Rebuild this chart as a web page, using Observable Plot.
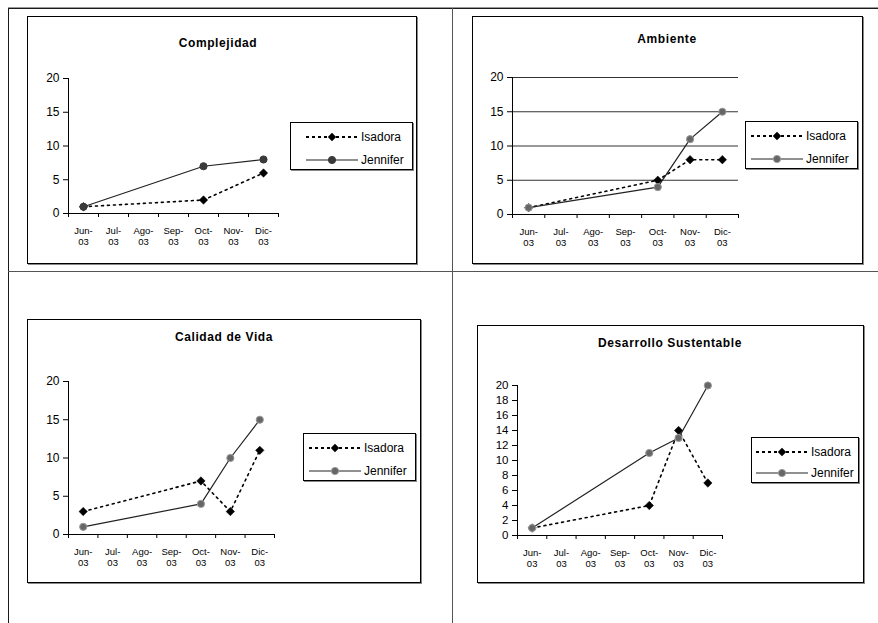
<!DOCTYPE html>
<html><head><meta charset="utf-8">
<script src="https://cdn.jsdelivr.net/npm/d3@7"></script>
<script src="https://cdn.jsdelivr.net/npm/@observablehq/plot@0.6"></script>
<style>
body{margin:0;background:#fff;font-family:"Liberation Sans",Arial,sans-serif;}
#page{position:relative;width:878px;height:623px;overflow:hidden;background:#fff;}
.rule{position:absolute;background:#1a1a1a;}
.box{position:absolute;border:1px solid #000;box-shadow:1px 1px 0 #888;box-sizing:border-box;pointer-events:none;}
.title{position:absolute;font-weight:bold;font-size:12px;letter-spacing:0.6px;transform:translate(-50%,-50%);white-space:nowrap;color:#000;}
.legend{position:absolute;border:1px solid #000;box-shadow:1px 1px 0 #888;box-sizing:border-box;background:#fff;}
.plot{position:absolute;}
</style></head><body><div id="page"></div>
<script>
// ---- data ----
const months = ["Jun-03","Jul-03","Ago-03","Sep-03","Oct-03","Nov-03","Dic-03"];
const seriesNames = ["Isadora","Jennifer"];
const complejidadIsadora  = [1,null,null,null,2,null,6];
const complejidadJennifer = [1,null,null,null,7,null,8];
const ambienteIsadora  = [1,null,null,null,5,8,8];
const ambienteJennifer = [1,null,null,null,4,11,15];
const calidadIsadora  = [3,null,null,null,7,3,11];
const calidadJennifer = [1,null,null,null,4,10,15];
const desarrolloIsadora  = [1,null,null,null,4,14,7];
const desarrolloJennifer = [1,null,null,null,11,13,20];
const ticks5 = [0,5,10,15,20];
const ticks2 = [0,2,4,6,8,10,12,14,16,18,20];
const gridAmbiente = [5,10,15,20];

const page = document.getElementById("page");
function div(cls, css, html){ const d=document.createElement("div"); d.className=cls; Object.assign(d.style,css); if(html!=null) d.innerHTML=html; page.appendChild(d); return d; }

// table rules
div("rule",{left:"8px",top:"7px",width:"870px",height:"1px",background:"#999"});
div("rule",{left:"8px",top:"8px",width:"870px",height:"1px"});
div("rule",{left:"8px",top:"8px",width:"1px",height:"615px"});
div("rule",{left:"452px",top:"8px",width:"1px",height:"615px",background:"#555"});
div("rule",{left:"8px",top:"271px",width:"870px",height:"1px",background:"#555"});

const panels = [
  {title:"Complejidad", isa:complejidadIsadora, jen:complejidadJennifer, ticks:ticks5, grid:[],
   box:[27,16,390,248], m:[62,139,51,41], tx:218, ty:43, leg:[290,122,123,48], lx:15, jfill:"#3a3a3a", jstroke:"#3a3a3a"},
  {title:"Ambiente", isa:ambienteIsadora, jen:ambienteJennifer, ticks:ticks5, grid:gridAmbiente,
   box:[472,16,391,248], m:[61,125,50,40], tx:667, ty:39, leg:[745,121,113,48], lx:5, jfill:"#666", jstroke:"#999"},
  {title:"Calidad de Vida", isa:calidadIsadora, jen:calidadJennifer, ticks:ticks5, grid:[],
   box:[27,319,394,264], m:[62,147,49,41], tx:224, ty:337, leg:[303,433,113,48], lx:5, jfill:"#666", jstroke:"#999"},
  {title:"Desarrollo Sustentable", isa:desarrolloIsadora, jen:desarrolloJennifer, ticks:ticks2, grid:[],
   box:[477,325,387,258], m:[60,142,48,40], tx:670, ty:343, leg:[751,437,108,46], lx:4, jfill:"#666", jstroke:"#999"}
];

function legendSVG(p){
  const [, , w, h] = p.leg;
  const x0 = p.lx, x1 = p.lx + 52, xm = (x0+x1)/2, tx = x1 + 3;
  const y1 = Math.round(h*0.3), y2 = Math.round(h*0.77);
  const d = 4.2;
  return `<svg width="${w-2}" height="${h-2}" style="display:block">
    <line x1="${x0}" y1="${y1}" x2="${x1}" y2="${y1}" stroke="#000" stroke-width="2" stroke-dasharray="3,3"/>
    <path d="M${xm},${y1-d}L${xm+d},${y1}L${xm},${y1+d}L${xm-d},${y1}Z" fill="#000"/>
    <text x="${tx}" y="${y1}" dy="0.35em" font-size="12" font-family="Liberation Sans, Arial">${seriesNames[0]}</text>
    <line x1="${x0}" y1="${y2}" x2="${x1}" y2="${y2}" stroke="#222" stroke-width="1.2"/>
    <circle cx="${xm}" cy="${y2}" r="3.6" fill="${p.jfill}" stroke="${p.jstroke}" stroke-width="1"/>
    <text x="${tx}" y="${y2}" dy="0.35em" font-size="12" font-family="Liberation Sans, Arial">${seriesNames[1]}</text>
  </svg>`;
}

for (const p of panels){
  const rows = [];
  months.forEach((mo,i)=>{
    if (p.isa[i]!=null) rows.push({series:seriesNames[0], i, value:p.isa[i]});
    if (p.jen[i]!=null) rows.push({series:seriesNames[1], i, value:p.jen[i]});
  });
  const isaRows = rows.filter(d=>d.series===seriesNames[0]);
  const jenRows = rows.filter(d=>d.series===seriesNames[1]);
  const [bx,by,bw,bh] = p.box;
  const [mt,mr,mb,ml] = p.m;
  const chart = Plot.plot({
    width: bw, height: bh,
    marginTop: mt, marginRight: mr, marginBottom: mb, marginLeft: ml,
    style:{fontFamily:"Liberation Sans, Arial, sans-serif", fontSize:"12px", background:"transparent", color:"#000", overflow:"visible"},
    x:{type:"linear", domain:[0, months.length], axis:null},
    y:{domain:[0,20], axis:null},
    marks:[
      Plot.ruleY(p.grid, {stroke:"#333", strokeWidth:1}),
      Plot.ruleX([0], {stroke:"#000"}),
      Plot.ruleY([0], {stroke:"#000"}),
      Plot.axisY({ticks:p.ticks, label:null, tickSize:5, tickPadding:4, fontSize: p.ticks.length>6 ? 11.5 : 12, stroke:"#000", tickFormat:d=>String(d)}),
      Plot.axisX({ticks:d3.range(0, months.length+1), label:null, tickSize:4, tickFormat:()=>"", stroke:"#000"}),
      Plot.text(months, {x:(d,i)=>i+0.5, y:()=>0, text:d=>d.replace("-","-\n"), dy:12, lineAnchor:"top", lineHeight:1.2, fontSize:9.5, fill:"#000"}),
      Plot.line(isaRows, {x:d=>d.i+0.5, y:"value", stroke:"#000", strokeWidth:1.6, strokeDasharray:"2,4"}),
      Plot.dot(isaRows, {x:d=>d.i+0.5, y:"value", symbol:"diamond2", r:3.8, fill:"#000", stroke:"#000", strokeWidth:0.5}),
      Plot.line(jenRows, {x:d=>d.i+0.5, y:"value", stroke:"#222", strokeWidth:1.2}),
      Plot.dot(jenRows, {x:d=>d.i+0.5, y:"value", r:3.6, fill:p.jfill, stroke:p.jstroke, strokeWidth:1})
    ]
  });
  const holder = div("plot",{left:bx+"px", top:by+"px", width:bw+"px", height:bh+"px"});
  holder.appendChild(chart);
  div("box",{left:bx+"px", top:by+"px", width:bw+"px", height:bh+"px"});
  div("title",{left:p.tx+"px", top:p.ty+"px"}, p.title);
  const [lx,ly,lw,lh] = p.leg;
  div("legend",{left:lx+"px", top:ly+"px", width:lw+"px", height:lh+"px"}, legendSVG(p));
}
</script>
</body></html>
